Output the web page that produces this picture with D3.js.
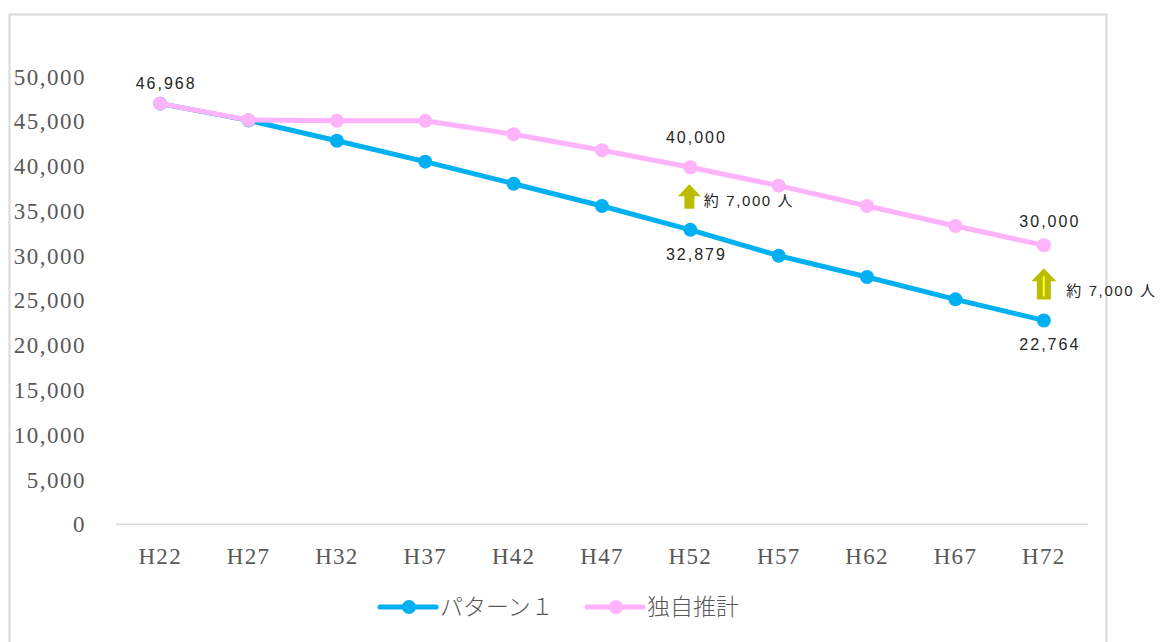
<!DOCTYPE html>
<html>
<head>
<meta charset="utf-8">
<script src="https://cdn.jsdelivr.net/npm/d3@7"></script>
<style>
  body { margin: 0; background: #fff; }
  svg { display: block; }
</style>
</head>
<body>
<div id="chart1"></div>
<script>

// categories (years) and the two series
var years = ['H22', 'H27', 'H32', 'H37', 'H42', 'H47', 'H52', 'H57', 'H62', 'H67', 'H72'];
var pattern1 = [46968, 45100, 42830, 40490, 38030, 35540, 32879, 29990, 27610, 25120, 22764];
var dokuji   = [46968, 45150, 45060, 45050, 43550, 41760, 39860, 37810, 35540, 33310, 31150];
var yTicks = [0, 5000, 10000, 15000, 20000, 25000, 30000, 35000, 40000, 45000, 50000];

var seriesNames = ['パターン１', '独自推計'];

// data labels: [series index, category index, text, placement]
var dataLabels = [
	[1, 0, '46,968', 'top'],
	[1, 6, '40,000', 'top'],
	[0, 6, '32,879', 'below'],
	[1, 10, '30,000', 'top2'],
	[0, 10, '22,764', 'below']
];
// gap arrows between the series
var gapNotes = [
	{ cat: 'H52', text: '約 7,000 人' },
	{ cat: 'H72', text: '約 7,000 人' }
];

d3_chart();

function d3_chart() {
	var W = 1160, H = 642;
	var blue = '#00B0F0', pink = '#FFB3FA', olive = '#BDBD00';
	var serif = '"Liberation Serif", "DejaVu Serif", serif';
	var sans = '"Liberation Sans", "Noto Sans CJK JP", sans-serif';

	var svg = d3.select('#chart1').append('svg')
				.attr('width', W)
				.attr('height', H);

	// chart frame (bottom runs off the picture)
	svg.append('rect')
		.attr('x', 9.5).attr('y', 14.5)
		.attr('width', 1097).attr('height', 660)
		.attr('fill', '#fff')
		.attr('stroke', '#d9d9d9')
		.attr('stroke-width', 2);

	var x = d3.scalePoint()
				.domain(years)
				.range([116, 1088])
				.padding(0.5);

	var y = d3.scaleLinear()
				.domain([0, 50000])
				.range([524.3, 76.5]);

	// category axis line
	svg.append('line')
		.attr('x1', 116).attr('x2', 1088)
		.attr('y1', y(0)).attr('y2', y(0))
		.attr('stroke', '#d9d9d9')
		.attr('stroke-width', 1.5);

	var fmt = d3.format(',');

	svg.selectAll('.ytick')
		.data(yTicks)
		.enter().append('text')
		.attr('class', 'ytick')
		.attr('x', 86)
		.attr('y', function(d) { return y(d) + 8; })
		.attr('text-anchor', 'end')
		.attr('font-family', serif)
		.attr('font-size', 23)
		.attr('letter-spacing', 1.5)
		.attr('fill', '#595959')
		.text(function(d) { return fmt(d); });

	svg.selectAll('.xtick')
		.data(years)
		.enter().append('text')
		.attr('class', 'xtick')
		.attr('x', function(d) { return x(d); })
		.attr('y', 564)
		.attr('text-anchor', 'middle')
		.attr('font-family', serif)
		.attr('font-size', 23)
		.attr('letter-spacing', 1.3)
		.attr('fill', '#595959')
		.text(function(d) { return d; });

	var series = [
		{ name: seriesNames[0], values: pattern1, color: blue },
		{ name: seriesNames[1], values: dokuji, color: pink }
	];

	var line = d3.line()
				.x(function(d, i) { return x(years[i]); })
				.y(function(d) { return y(d); });

	series.forEach(function(s) {
		svg.append('path')
			.datum(s.values)
			.attr('d', line)
			.attr('fill', 'none')
			.attr('stroke', s.color)
			.attr('stroke-width', 5)
			.attr('stroke-linejoin', 'round');

		svg.selectAll(null)
			.data(s.values)
			.enter().append('circle')
			.attr('cx', function(d, i) { return x(years[i]); })
			.attr('cy', function(d) { return y(d); })
			.attr('r', 7)
			.attr('fill', s.color);
	});

	// data labels
	var dyFor = { top: -15, top2: -18, below: 30 };
	dataLabels.forEach(function(l) {
		var v = series[l[0]].values[l[1]];
		var dy = dyFor[l[3]];
		if (l[3] == 'top' && l[1] > 0) dy = -24;
		svg.append('text')
			.attr('x', x(years[l[1]]) + 6)
			.attr('y', y(v) + dy)
			.attr('text-anchor', 'middle')
			.attr('font-family', sans)
			.attr('font-size', 16)
			.attr('letter-spacing', 2)
			.attr('fill', '#262626')
			.text(l[2]);
	});

	// arrows showing the gap
	gapNotes.forEach(function(g, k) {
		var i = years.indexOf(g.cat);
		var cx = x(g.cat) - (k == 0 ? 1 : 0);
		var top = y(dokuji[i]) + (k == 0 ? 17 : 23);
		var bot = y(pattern1[i]) - 21;
		var hw = k == 0 ? 11.5 : 12.5;   // half width of head
		var sw = k == 0 ? 5 : 7;         // half width of shaft
		var hh = k == 0 ? 12 : 13;       // head height
		var pts = [
			[cx, top], [cx + hw, top + hh], [cx + sw, top + hh], [cx + sw, bot],
			[cx - sw, bot], [cx - sw, top + hh], [cx - hw, top + hh]
		];
		svg.append('path')
			.attr('d', d3.line()(pts) + 'Z')
			.attr('fill', olive);
		if (k == 1) {
			svg.append('line')
				.attr('x1', cx).attr('x2', cx)
				.attr('y1', top + 8).attr('y2', bot - 3)
				.attr('stroke', '#FFFF33')
				.attr('stroke-width', 2);
		}
		svg.append('text')
			.attr('x', cx + hw + (k == 0 ? 3 : 10))
			.attr('y', bot - 3)
			.attr('font-family', sans)
			.attr('font-size', 15)
			.attr('letter-spacing', 1.6)
			.attr('fill', '#262626')
			.text(g.text);
	});

	// legend
	var lg = svg.append('g').attr('transform', 'translate(380,607)');
	series.forEach(function(s, i) {
		var g = lg.append('g').attr('transform', 'translate(' + (i * 207) + ',0)');
		g.append('line')
			.attr('x1', 0).attr('x2', 56)
			.attr('stroke', s.color)
			.attr('stroke-width', 5)
			.attr('stroke-linecap', 'round');
		g.append('circle')
			.attr('cx', 29).attr('r', 7)
			.attr('fill', s.color);
		g.append('text')
			.attr('x', 60)
			.attr('y', 8)
			.attr('font-family', '"Noto Sans CJK JP", sans-serif')
			.attr('font-weight', 300)
			.attr('font-size', 23)
			.attr('fill', '#595959')
			.text(s.name);
	});
}
</script>
</body>
</html>
